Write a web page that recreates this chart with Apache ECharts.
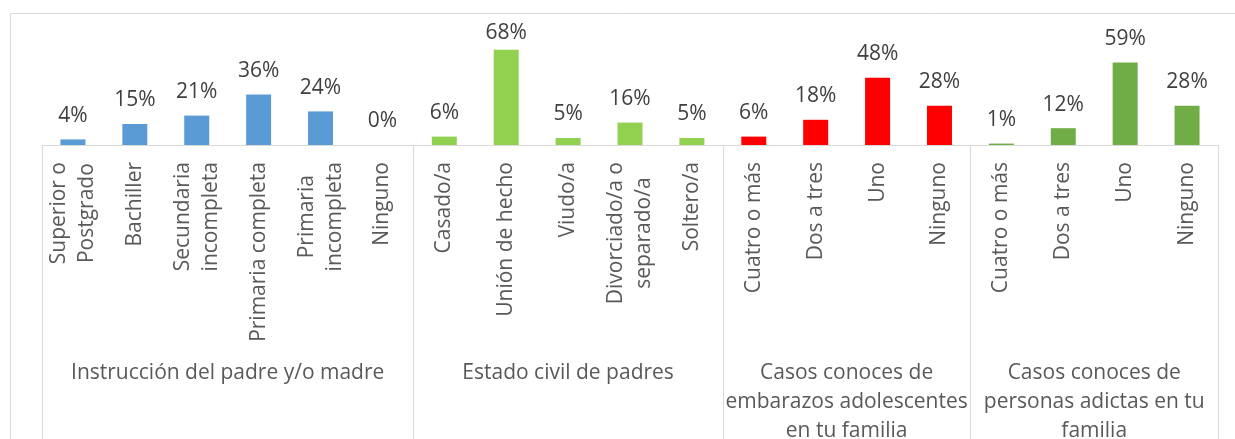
<!DOCTYPE html>
<html lang="es">
<head>
    <meta charset="UTF-8">
    <title>Chart</title>
    <script src="https://cdn.jsdelivr.net/npm/echarts@6.0.0/dist/echarts.min.js"></script>
    <style>
        body { margin: 0; background: #fff; }
        #chart { width: 1235px; height: 439px; }
    </style>
</head>
<body>
<div id="chart"></div>
<script>
    var categories = ['Superior o\nPostgrado', 'Bachiller', 'Secundaria\nincompleta', 'Primaria completa', 'Primaria\nincompleta', 'Ninguno',
        'Casado/a', 'Unión de hecho', 'Viudo/a', 'Divorciado/a o\nseparado/a', 'Soltero/a',
        'Cuatro o más', 'Dos a tres', 'Uno', 'Ninguno',
        'Cuatro o más', 'Dos a tres', 'Uno', 'Ninguno'];
    var values = [4, 15, 21, 36, 24, 0, 6, 68, 5, 16, 5, 6, 18, 48, 28, 1, 12, 59, 28];
    var groupNames = ['Instrucción del padre y/o madre', 'Estado civil de padres',
        'Casos conoces de\nembarazos adolescentes\nen tu familia',
        'Casos conoces de\npersonas adictas en tu\nfamilia'];
    var groupSizes = [6, 5, 4, 4];
    var groupColors = ['#5B9BD5', '#92D050', '#FF0000', '#70AD47'];

    var font = 'Open Sans';
    var chart = echarts.init(document.getElementById('chart'));

    // group axis: half-category steps, so group centres and edges fall on ticks
    var groupAxis = [];
    var groupTicks = {};
    var barColors = [];
    var start = 0;
    for (var i = 0; i <= categories.length * 2; i++) groupAxis.push('');
    groupTicks[0] = true;
    groupSizes.forEach(function (n, g) {
        groupAxis[start * 2 + n] = groupNames[g];
        groupTicks[(start + n) * 2] = true;
        for (var k = 0; k < n; k++) barColors.push(groupColors[g]);
        start += n;
    });

    var maxVal = Math.max.apply(null, values);
    var barData = values.map(function (v, i) {
        var item = { value: v, itemStyle: { color: barColors[i] } };
        if (v === maxVal) item.label = { distance: 6 };
        return item;
    });

    var option = {
        backgroundColor: '#fff',
        animation: false,
        graphic: [{
            type: 'rect',
            shape: { x: 10.5, y: 13.5, width: 1400, height: 600 },
            style: { fill: 'none', stroke: '#d9d9d9', lineWidth: 1 },
            silent: true
        }],
        grid: {
            left: 42,
            right: 17,
            top: 33,
            bottom: 294,
            outerBoundsMode: 'none'
        },
        xAxis: [{
            type: 'category',
            data: categories,
            axisLine: { lineStyle: { color: '#d9d9d9', width: 1 } },
            axisTick: { show: false },
            axisLabel: {
                interval: 0,
                rotate: 90,
                margin: 17,
                color: '#595959',
                fontFamily: font,
                fontSize: 21,
                lineHeight: 28,
                formatter: function (v) {
                    return v.split('\n').map(function (s) { return '{c|' + s + '}'; }).join('\n');
                },
                rich: {
                    c: { align: 'center', color: '#595959', fontFamily: font, fontSize: 21, lineHeight: 28 }
                }
            }
        }, {
            type: 'category',
            data: groupAxis,
            position: 'bottom',
            boundaryGap: false,
            axisLine: { show: false },
            axisTick: {
                show: true,
                interval: function (i) { return !!groupTicks[i]; },
                length: 300,
                lineStyle: { color: '#d9d9d9', width: 1 }
            },
            axisLabel: {
                interval: function (i) { return groupAxis[i] !== ''; },
                margin: 214,
                color: '#595959',
                fontFamily: font,
                fontSize: 21,
                lineHeight: 29,
                align: 'center'
            }
        }],
        yAxis: {
            type: 'value',
            min: 0,
            max: 80,
            show: false
        },
        series: [{
            type: 'bar',
            xAxisIndex: 0,
            barWidth: 25,
            data: barData,
            label: {
                show: true,
                position: 'top',
                distance: 13,
                formatter: '{c}%',
                color: '#404040',
                fontFamily: font,
                fontSize: 21
            }
        }]
    };

    chart.setOption(option);
</script>
</body>
</html>
